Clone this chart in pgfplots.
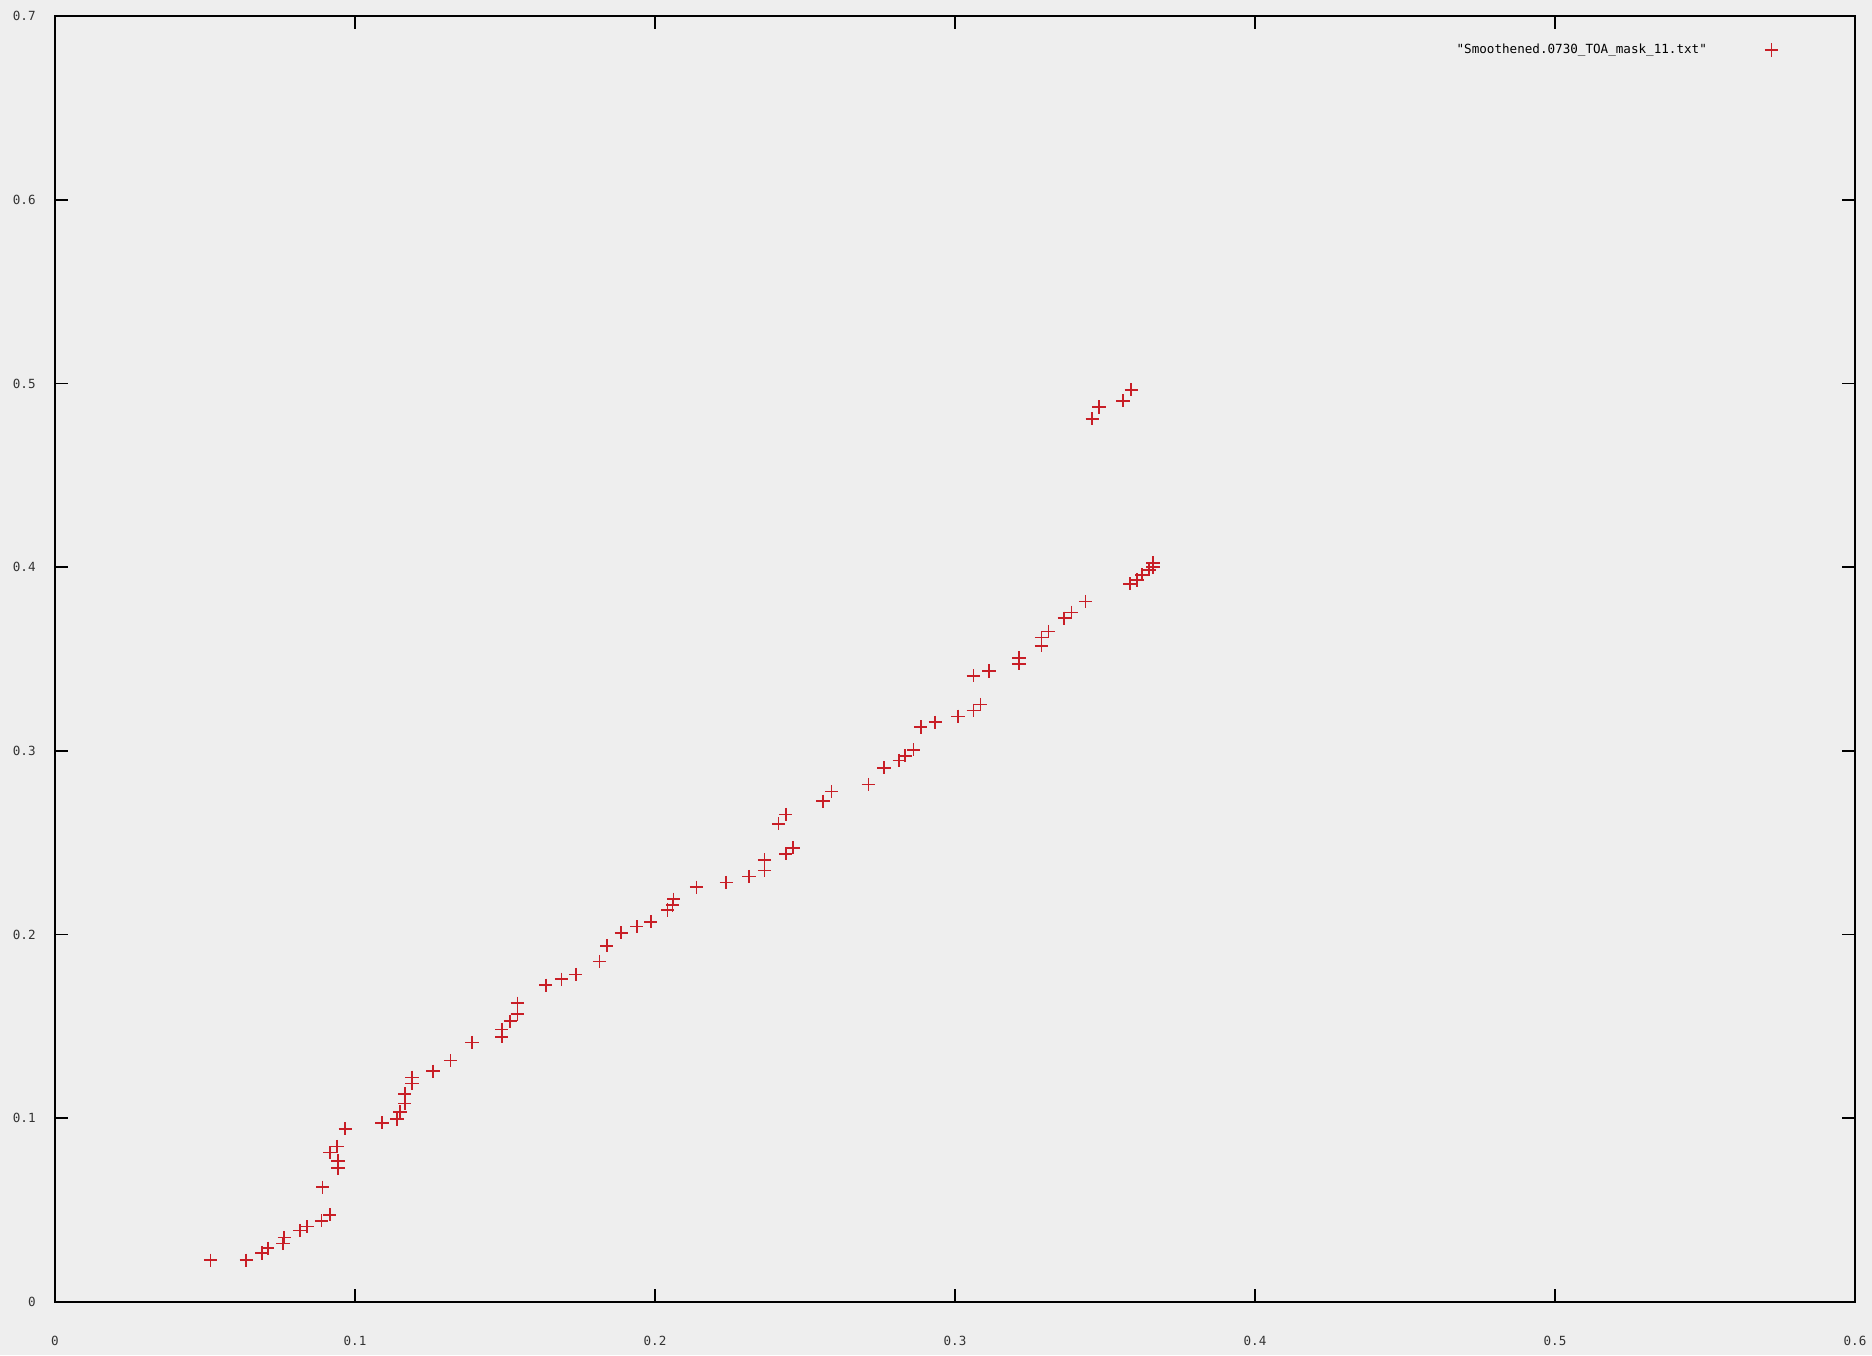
\documentclass[border=0pt]{standalone}
\usepackage{fontspec}
\usepackage{pgfplots}
\pgfplotsset{compat=1.18}
\newfontfamily\gpfont{DejaVu Sans Mono}
\definecolor{bg}{HTML}{EEEEEE}
\definecolor{gpred}{RGB}{200,30,38}
\begin{document}
\begin{tikzpicture}
\fill[bg] (-27.5pt,-26.5pt) rectangle (908.5pt,651pt);
\begin{axis}[
  scale only axis,
  width=900pt, height=643pt,
  xmin=0, xmax=0.6, ymin=0, ymax=0.7,
  xtick={0,0.1,0.2,0.3,0.4,0.5,0.6},
  xticklabels={0,0.1,0.2,0.3,0.4,0.5,0.6},
  ytick={0,0.1,0.2,0.3,0.4,0.5,0.6,0.7},
  yticklabels={0,0.1,0.2,0.3,0.4,0.5,0.6,0.7},
  tick pos=both, tick align=inside, major tick length=6.5pt,
  minor tick num=0,
  axis line style={line width=0.9pt, black},
  every tick/.style={line width=0.9pt, black},
  ticklabel style={font=\gpfont\fontsize{6.3}{7}\selectfont, text=black!80},
  xticklabel style={anchor=north, inner sep=0pt, yshift=-17pt},
  yticklabel style={anchor=east, inner sep=0pt, xshift=-9.5pt},
  axis background/.style={fill=bg},
  legend plot pos=right,
  legend style={at={(rel axis cs:0.9575,0.9736)}, anchor=east, draw=none, fill=none,
    inner sep=0pt, column sep=29pt, font=\gpfont\fontsize{6.3}{7}\selectfont,
    nodes={inner sep=0pt}},
  legend image code/.code={\draw[#1,only marks] plot coordinates {(0pt,0pt)};},
]
\addplot[only marks, mark=+, mark size=3.3pt, color=gpred, mark options={line width=0.8pt}] table {
x y
0.0518 0.0228
0.0637 0.0228
0.0689 0.0267
0.0709 0.0293
0.0760 0.0319
0.0764 0.0351
0.0816 0.0390
0.0840 0.0410
0.0888 0.0442
0.0916 0.0475
0.0892 0.0625
0.0943 0.0729
0.0943 0.0768
0.0916 0.0813
0.0940 0.0846
0.0967 0.0943
0.1090 0.0976
0.1140 0.0995
0.1150 0.1035
0.1166 0.1080
0.1166 0.1132
0.1190 0.1190
0.1190 0.1223
0.1260 0.1256
0.1318 0.1314
0.1390 0.1412
0.1489 0.1444
0.1489 0.1483
0.1517 0.1529
0.1541 0.1568
0.1541 0.1627
0.1636 0.1724
0.1688 0.1757
0.1736 0.1783
0.1815 0.1854
0.1839 0.1939
0.1887 0.2010
0.1939 0.2043
0.1986 0.2069
0.2042 0.2134
0.2058 0.2160
0.2062 0.2193
0.2138 0.2258
0.2237 0.2284
0.2313 0.2316
0.2365 0.2349
0.2365 0.2407
0.2436 0.2440
0.2460 0.2472
0.2412 0.2603
0.2436 0.2654
0.2560 0.2726
0.2588 0.2778
0.2711 0.2817
0.2763 0.2908
0.2814 0.2947
0.2834 0.2973
0.2862 0.3006
0.2886 0.3130
0.2934 0.3156
0.3010 0.3188
0.3061 0.3220
0.3085 0.3253
0.3061 0.3409
0.3113 0.3435
0.3213 0.3474
0.3213 0.3507
0.3288 0.3572
0.3288 0.3617
0.3312 0.3650
0.3364 0.3722
0.3388 0.3754
0.3435 0.3813
0.3583 0.3909
0.3607 0.3930
0.3623 0.3958
0.3647 0.3985
0.3660 0.4001
0.3660 0.4023
0.3457 0.4807
0.3480 0.4872
0.3560 0.4905
0.3587 0.4965
};
\addlegendentry{"Smoothened.0730\_TOA\_mask\_11.txt"}
\end{axis}
\pgfresetboundingbox
\path[use as bounding box] (-27.5pt,-26.5pt) rectangle (908.5pt,651pt);
\end{tikzpicture}
\end{document}
